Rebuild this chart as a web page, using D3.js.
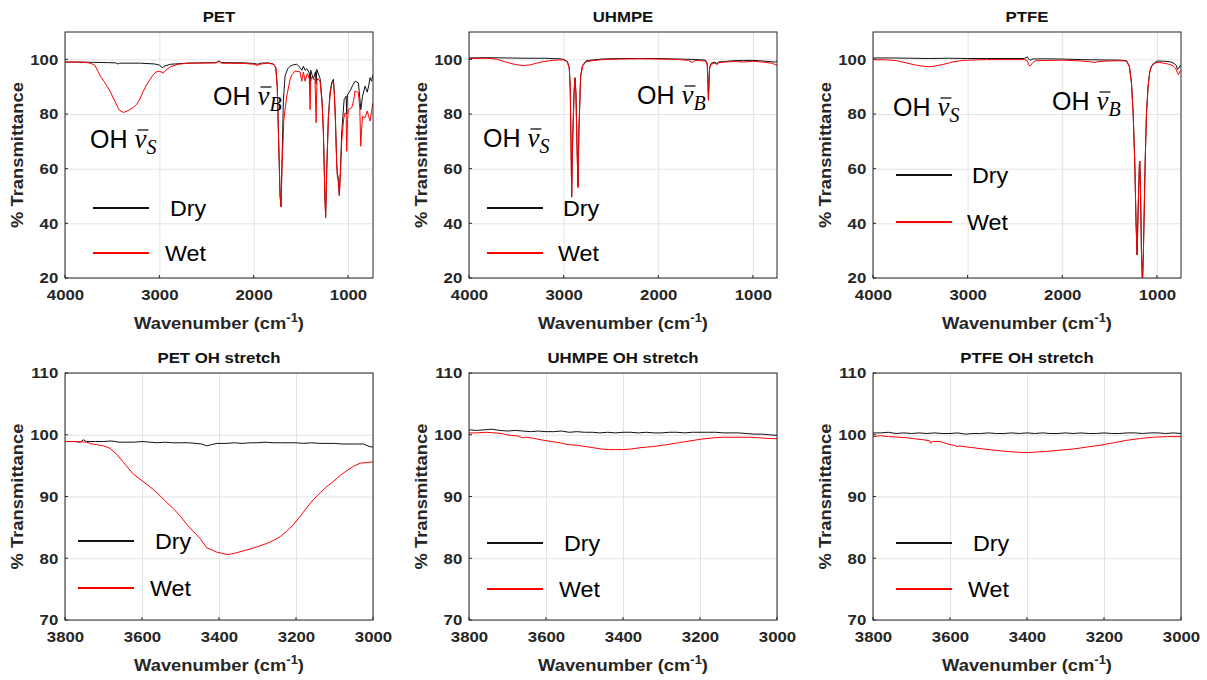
<!DOCTYPE html>
<html>
<head>
<meta charset="utf-8">
<script src="https://cdn.jsdelivr.net/npm/d3@7"></script>
<style>
  body { margin: 0; background: #fff; }
  text { font-family: "Liberation Sans", Arial, sans-serif; }
</style>
</head>
<body>
<svg id="chart" width="1207" height="680"></svg>
<script>
// spectra: [wavenumber cm-1, % transmittance]
const petDry = [
  [4000, 99.0], [3850, 99.0], [3700, 98.9], [3550, 98.8], [3460, 98.7], [3438, 98.3], [3420, 98.6],
  [3200, 98.6], [3050, 98.3], [3000, 97.9], [2968, 97.0], [2940, 97.6], [2880, 98.2], [2700, 98.6],
  [2400, 98.8], [2367, 99.4], [2340, 98.8], [2100, 98.7], [2000, 98.5], [1960, 98.2], [1920, 98.6],
  [1850, 98.7], [1790, 98.3], [1765, 97.0], [1750, 90.0], [1735, 70.0], [1720, 50.0], [1710, 46.2],
  [1700, 62.0], [1685, 85.0], [1667, 93.9], [1640, 96.5], [1614, 97.5], [1580, 98.0], [1543, 98.2],
  [1508, 97.0], [1490, 96.0], [1473, 97.5], [1455, 96.0], [1437, 96.6], [1410, 95.0], [1402, 90.0],
  [1395, 96.0], [1367, 92.7], [1345, 95.5], [1338, 91.0], [1331, 96.3], [1296, 93.0], [1275, 85.0],
  [1261, 74.0], [1245, 50.0], [1237, 42.5], [1225, 60.0], [1208, 79.0], [1190, 88.0], [1173, 91.4],
  [1155, 92.7], [1145, 88.0], [1134, 79.0], [1120, 62.0], [1113, 58.4], [1105, 57.0], [1092, 50.5],
  [1080, 60.0], [1067, 73.0], [1041, 85.3], [1020, 86.5], [1013, 80.0], [1006, 87.0], [978, 88.4],
  [950, 90.5], [925, 92.0], [890, 91.4], [875, 86.0], [865, 81.6], [855, 84.0], [846, 86.5],
  [819, 90.2], [796, 88.0], [780, 90.5], [766, 93.3], [750, 92.0], [735, 94.5]
]
const petWet = [
  [4000, 99.0], [3850, 99.0], [3760, 98.8], [3718, 98.4], [3683, 97.8], [3648, 95.5], [3622, 93.6],
  [3588, 92.0], [3553, 90.1], [3518, 88.0], [3484, 85.5], [3449, 83.2], [3432, 81.7], [3406, 81.0],
  [3380, 80.6], [3354, 80.9], [3319, 81.5], [3276, 82.4], [3241, 83.5], [3206, 85.5], [3172, 88.2],
  [3137, 90.6], [3102, 92.5], [3068, 94.2], [3033, 95.4], [3000, 95.6], [2975, 95.3], [2960, 95.0],
  [2930, 96.0], [2880, 97.3], [2800, 98.2], [2700, 98.6], [2400, 98.7], [2367, 99.3], [2340, 98.6],
  [2100, 98.5], [2000, 98.2], [1960, 97.8], [1920, 98.3], [1850, 98.6], [1790, 98.2], [1765, 97.0],
  [1750, 90.0], [1735, 70.0], [1720, 50.0], [1710, 46.0], [1700, 60.0], [1680, 78.0], [1649, 86.5],
  [1614, 92.7], [1590, 94.5], [1561, 95.7], [1508, 95.4], [1490, 92.0], [1473, 95.4], [1455, 92.0],
  [1431, 94.8], [1410, 93.0], [1402, 81.6], [1395, 92.0], [1384, 93.6], [1350, 92.5], [1338, 76.8],
  [1330, 92.0], [1320, 93.0], [1296, 92.0], [1275, 84.0], [1261, 73.0], [1245, 50.0], [1237, 42.0],
  [1225, 60.0], [1208, 78.5], [1190, 87.0], [1173, 90.8], [1155, 91.8], [1145, 87.0], [1134, 78.0],
  [1120, 62.0], [1113, 57.0], [1105, 56.0], [1092, 50.0], [1080, 58.0], [1067, 70.0], [1045, 78.5],
  [1031, 80.4], [1020, 80.0], [1013, 66.4], [1005, 78.0], [995, 81.7], [960, 82.3], [940, 85.0],
  [925, 88.4], [890, 87.8], [875, 82.0], [865, 68.2], [855, 75.0], [846, 79.2], [819, 78.6],
  [796, 81.1], [780, 79.0], [766, 77.4], [750, 81.0], [735, 84.1]
]
const uhmpeDry = [
  [4000, 100.5], [3800, 100.6], [3600, 100.5], [3400, 100.4], [3200, 100.4], [3050, 100.2],
  [3000, 100.0], [2960, 99.2], [2940, 97.0], [2930, 90.0], [2920, 65.0], [2915, 49.8], [2905, 70.0],
  [2890, 88.0], [2880, 93.3], [2870, 88.0], [2858, 68.0], [2848, 53.5], [2838, 75.0], [2820, 94.0],
  [2800, 97.8], [2760, 99.5], [2600, 100.1], [2400, 100.3], [2200, 100.3], [2000, 100.3], [1800, 100.1],
  [1650, 100.0], [1500, 99.7], [1482, 98.5], [1475, 92.0], [1470, 86.0], [1465, 90.0], [1458, 97.0],
  [1440, 98.6], [1400, 99.0], [1380, 98.3], [1365, 99.0], [1300, 99.2], [1200, 99.5], [1100, 99.6],
  [1000, 99.6], [900, 99.4], [800, 99.1], [760, 99.0], [735, 99.5]
]
const uhmpeWet = [
  [4000, 100.3], [3800, 100.4], [3700, 100.0], [3650, 99.4], [3600, 98.9], [3520, 98.2], [3430, 97.7],
  [3350, 98.0], [3250, 98.9], [3150, 99.5], [3050, 99.8], [3000, 99.8], [2960, 99.0], [2940, 96.5],
  [2930, 89.0], [2920, 64.0], [2915, 49.5], [2905, 69.0], [2890, 87.5], [2880, 93.0], [2870, 87.5],
  [2858, 67.0], [2848, 53.0], [2838, 74.0], [2820, 93.5], [2800, 97.5], [2760, 99.2], [2600, 99.9],
  [2400, 100.1], [2200, 100.2], [2000, 100.1], [1800, 100.0], [1680, 99.6], [1640, 98.8], [1610, 99.6],
  [1500, 99.4], [1482, 98.0], [1475, 91.0], [1470, 85.0], [1465, 89.0], [1458, 96.5], [1440, 98.2],
  [1400, 98.7], [1380, 98.0], [1365, 98.8], [1300, 99.0], [1200, 99.2], [1100, 99.0], [1000, 99.3],
  [900, 99.0], [800, 98.6], [760, 98.0], [735, 97.9]
]
const ptfeDry = [
  [4000, 100.5], [3800, 100.5], [3600, 100.4], [3400, 100.3], [3200, 100.4], [3000, 100.3],
  [2800, 100.3], [2400, 100.3], [2368, 100.9], [2355, 100.2], [2340, 99.6], [2320, 100.1],
  [2200, 100.2], [2000, 100.1], [1800, 99.9], [1600, 99.8], [1400, 99.7], [1321, 99.5], [1290, 97.5],
  [1268, 91.4], [1250, 80.0], [1233, 62.0], [1220, 40.0], [1209, 28.4], [1198, 45.0], [1185, 61.5],
  [1180, 62.7], [1172, 50.0], [1162, 28.0], [1152, 18.0], [1142, 30.0], [1124, 62.0], [1110, 80.0],
  [1093, 90.2], [1075, 95.5], [1057, 97.6], [1020, 98.9], [987, 99.4], [930, 99.3], [882, 99.2],
  [840, 98.9], [811, 98.3], [795, 97.8], [783, 96.3], [770, 96.6], [758, 97.6], [735, 98.0]
]
const ptfeWet = [
  [4000, 99.9], [3850, 99.8], [3750, 99.5], [3650, 98.7], [3550, 97.9], [3480, 97.5], [3416, 97.3],
  [3350, 97.5], [3250, 98.2], [3150, 99.1], [3050, 99.6], [3000, 99.7], [2800, 99.9], [2400, 99.9],
  [2370, 99.6], [2355, 98.0], [2340, 97.5], [2320, 98.4], [2307, 98.9], [2280, 99.5], [2000, 99.7],
  [1800, 99.4], [1700, 99.1], [1660, 98.8], [1620, 99.2], [1500, 99.4], [1400, 99.5], [1321, 99.4],
  [1290, 97.2], [1268, 91.0], [1250, 79.5], [1233, 61.5], [1220, 40.0], [1209, 28.4], [1198, 45.0],
  [1185, 61.5], [1180, 62.7], [1172, 50.0], [1162, 28.0], [1152, 18.0], [1142, 30.0], [1124, 62.0],
  [1110, 80.0], [1093, 90.0], [1075, 95.3], [1057, 97.4], [1020, 98.6], [987, 98.9], [930, 98.6],
  [882, 98.3], [840, 97.8], [811, 97.0], [795, 96.2], [783, 95.1], [770, 94.4], [758, 95.6], [735, 96.0]
]
const petOhDry = [
  [3800, 98.9], [3775, 98.9], [3760, 98.8], [3752, 99.2], [3745, 98.9], [3720, 98.9], [3700, 98.9],
  [3680, 99.0], [3660, 98.8], [3640, 98.8], [3620, 98.8], [3600, 98.9], [3580, 98.8], [3560, 98.7],
  [3540, 98.8], [3520, 98.7], [3500, 98.7], [3480, 98.7], [3460, 98.6], [3445, 98.5], [3432, 98.2],
  [3420, 98.4], [3405, 98.6], [3380, 98.6], [3360, 98.7], [3340, 98.6], [3320, 98.7], [3300, 98.7],
  [3280, 98.8], [3260, 98.7], [3240, 98.7], [3220, 98.7], [3200, 98.7], [3180, 98.6], [3160, 98.7],
  [3140, 98.6], [3120, 98.6], [3100, 98.6], [3080, 98.5], [3060, 98.5], [3040, 98.5], [3025, 98.5],
  [3010, 98.1], [3000, 98.0]
]
const petOhWet = [
  [3800, 98.9], [3770, 98.9], [3744, 98.8], [3730, 98.5], [3718, 98.4], [3700, 98.2], [3683, 97.8],
  [3665, 96.8], [3648, 95.5], [3622, 93.6], [3605, 92.8], [3588, 92.0], [3570, 91.1], [3553, 90.1],
  [3535, 89.0], [3518, 88.0], [3500, 86.8], [3484, 85.5], [3466, 84.3], [3449, 83.2], [3432, 81.7],
  [3420, 81.4], [3406, 81.0], [3393, 80.8], [3380, 80.6], [3367, 80.7], [3354, 80.9], [3336, 81.2],
  [3319, 81.5], [3298, 81.9], [3276, 82.4], [3258, 82.9], [3241, 83.5], [3224, 84.4], [3206, 85.5],
  [3189, 86.8], [3172, 88.2], [3155, 89.5], [3137, 90.6], [3120, 91.6], [3102, 92.5], [3085, 93.4],
  [3068, 94.2], [3050, 94.9], [3033, 95.4], [3015, 95.5], [3000, 95.6]
]
const uhmpeOhDry = [
  [3800, 100.8], [3780, 100.7], [3760, 100.8], [3740, 100.9], [3720, 100.7], [3700, 100.6],
  [3680, 100.7], [3660, 100.6], [3640, 100.5], [3620, 100.6], [3600, 100.5], [3580, 100.5],
  [3560, 100.6], [3540, 100.4], [3520, 100.5], [3500, 100.4], [3480, 100.4], [3460, 100.3],
  [3440, 100.4], [3420, 100.3], [3400, 100.4], [3380, 100.4], [3360, 100.3], [3340, 100.4],
  [3320, 100.3], [3300, 100.3], [3280, 100.4], [3260, 100.4], [3240, 100.3], [3220, 100.4],
  [3200, 100.4], [3180, 100.4], [3160, 100.4], [3140, 100.3], [3120, 100.3], [3100, 100.3],
  [3080, 100.2], [3060, 100.1], [3040, 100.1], [3020, 100.0], [3000, 99.9]
]
const uhmpeOhWet = [
  [3800, 100.3], [3780, 100.3], [3755, 100.4], [3735, 100.3], [3715, 100.2], [3694, 99.9],
  [3672, 99.8], [3660, 99.5], [3651, 99.6], [3630, 99.4], [3607, 99.1], [3585, 98.9], [3564, 98.7],
  [3542, 98.4], [3521, 98.3], [3499, 98.1], [3477, 97.9], [3458, 97.7], [3438, 97.6], [3420, 97.6],
  [3399, 97.6], [3378, 97.7], [3356, 97.9], [3320, 98.1], [3286, 98.4], [3256, 98.7], [3226, 99.0],
  [3195, 99.3], [3165, 99.5], [3140, 99.6], [3113, 99.6], [3090, 99.6], [3070, 99.6], [3045, 99.5],
  [3020, 99.4], [3000, 99.35]
]
const ptfeOhDry = [
  [3800, 100.3], [3780, 100.3], [3760, 100.4], [3740, 100.2], [3720, 100.3], [3700, 100.2],
  [3680, 100.3], [3660, 100.2], [3640, 100.3], [3620, 100.2], [3600, 100.2], [3580, 100.3],
  [3560, 100.1], [3540, 100.2], [3520, 100.2], [3500, 100.3], [3480, 100.2], [3460, 100.2],
  [3440, 100.3], [3420, 100.2], [3400, 100.3], [3380, 100.2], [3360, 100.3], [3340, 100.2],
  [3320, 100.2], [3300, 100.3], [3280, 100.2], [3260, 100.3], [3240, 100.2], [3220, 100.2],
  [3200, 100.3], [3180, 100.2], [3160, 100.2], [3140, 100.3], [3120, 100.3], [3100, 100.2],
  [3080, 100.3], [3060, 100.3], [3040, 100.2], [3020, 100.3], [3000, 100.2]
]
const ptfeOhWet = [
  [3800, 99.7], [3780, 99.85], [3760, 99.7], [3731, 99.6], [3710, 99.5], [3687, 99.3], [3670, 99.2],
  [3652, 99.0], [3650, 98.6], [3645, 98.9], [3626, 98.9], [3610, 98.6], [3600, 98.4], [3590, 98.3],
  [3582, 98.1], [3575, 98.2], [3566, 98.1], [3540, 97.9], [3514, 97.7], [3485, 97.5], [3453, 97.3],
  [3430, 97.2], [3401, 97.1], [3375, 97.2], [3349, 97.3], [3315, 97.5], [3279, 97.7], [3245, 98.0],
  [3210, 98.3], [3175, 98.7], [3141, 99.1], [3105, 99.4], [3072, 99.6], [3035, 99.7], [3000, 99.7]
]

const fullTicks = [4000, 3000, 2000, 1000]
const fullYTicks = [20, 40, 60, 80, 100]
const ohTicks = [3800, 3600, 3400, 3200, 3000]
const ohYTicks = [70, 80, 90, 100, 110]

const svg = d3.select('#chart')
svg.append('rect').attr('width', 1207).attr('height', 680).attr('fill', '#fff')

const plotW = 308
const topRow = { top: 32, bottom: 278 }
const botRow = { top: 373, bottom: 620 }
const lefts = [65, 469, 873]
const serif = '"Liberation Serif", "DejaVu Serif", serif'

let clipId = 0

// the figure's lettering is a bit wider than Arial, so stretch it sideways
function wideText (g, x, y, k) {
  return g.append('g').attr('transform', 'translate(' + x + ',' + y + ') scale(' + k + ',1)')
    .append('text')
}

function drawPanel (p) {
  const left = p.left
  const top = p.row.top
  const h = p.row.bottom - p.row.top
  const g = svg.append('g').attr('transform', 'translate(' + left + ',' + top + ')')

  const x = d3.scaleLinear().domain(p.xDomain).range([0, plotW])
  const y = d3.scaleLinear().domain(p.yDomain).range([h, 0])

  // grid + tick labels
  const xAxis = g.append('g').attr('transform', 'translate(0,' + h + ')')
    .call(d3.axisBottom(x).tickValues(p.xTicks).tickSizeInner(-h).tickSizeOuter(0).tickPadding(8).tickFormat(d3.format('d')))
  const yAxis = g.append('g')
    .call(d3.axisLeft(y).tickValues(p.yTicks).tickSizeInner(-plotW).tickSizeOuter(0).tickPadding(6).tickFormat(d3.format('d')))
  ;[xAxis, yAxis].forEach(a => {
    a.select('.domain').remove()
    a.selectAll('line').attr('stroke', '#e3e3e3').attr('stroke-width', 1)
    a.selectAll('text').attr('fill', '#262626').style('font-size', '15px').style('font-weight', 'bold')
      .style('font-family', '"Liberation Sans", Arial, sans-serif')
      .attr('transform', 'scale(1.12,1)')
  })
  xAxis.selectAll('text').attr('dy', '0.95em')

  // small inward ticks like MATLAB
  g.selectAll('.xt').data(p.xTicks).enter().append('line')
    .attr('x1', d => x(d)).attr('x2', d => x(d)).attr('y1', h).attr('y2', h - 3)
    .attr('stroke', '#262626')
  g.selectAll('.yt').data(p.yTicks).enter().append('line')
    .attr('x1', 0).attr('x2', 3).attr('y1', d => y(d)).attr('y2', d => y(d))
    .attr('stroke', '#262626')

  const id = 'clip' + (clipId++)
  g.append('clipPath').attr('id', id).append('rect').attr('width', plotW).attr('height', h)

  const line = d3.line().x(d => x(d[0])).y(d => y(d[1]))
  const lines = g.append('g').attr('clip-path', 'url(#' + id + ')')
  lines.append('path').datum(p.dry).attr('d', line).attr('fill', 'none').attr('stroke', '#111').attr('stroke-width', 1)
  lines.append('path').datum(p.wet).attr('d', line).attr('fill', 'none').attr('stroke', '#ff0000').attr('stroke-width', 1)

  // frame
  g.append('rect').attr('width', plotW).attr('height', h).attr('fill', 'none')
    .attr('stroke', '#262626').attr('stroke-width', 1)

  // title
  wideText(g, plotW / 2, -10, 1.12).attr('text-anchor', 'middle')
    .style('font-size', '15px').style('font-weight', 'bold').attr('fill', '#111').text(p.title)

  // axis labels
  const xl = wideText(g, plotW / 2, h + 51, 1.08).attr('text-anchor', 'middle')
    .style('font-size', '17px').style('font-weight', 'bold').attr('fill', '#262626')
  xl.append('tspan').text('Wavenumber (cm')
  xl.append('tspan').attr('dy', -7).style('font-size', '12px').text('-1')
  xl.append('tspan').attr('dy', 7).text(')')

  g.append('g').attr('transform', 'translate(' + (-42) + ',' + (h / 2) + ') rotate(-90) scale(1.08,1)')
    .append('text').attr('text-anchor', 'middle').style('font-size', '17px').style('font-weight', 'bold')
    .attr('fill', '#262626').text('% Transmittance')

  // legend
  const lg = p.legend
  ;[['Dry', '#111', lg.y1, lg.tx], ['Wet', '#ff0000', lg.y2, lg.tx - 5]].forEach(([name, col, ly, tx]) => {
    g.append('line').attr('x1', lg.x1).attr('x2', lg.x2).attr('y1', ly).attr('y2', ly)
      .attr('stroke', col).attr('stroke-width', 2)
    wideText(g, tx, ly + 8, 1.06).style('font-size', '22px').attr('fill', '#000').text(name)
  })

  // OH band annotations
  ;(p.notes || []).forEach(n => {
    const t = g.append('text').attr('x', n.x).attr('y', n.y).style('font-size', '25px').attr('fill', '#000')
    t.append('tspan').text('OH ')
    t.append('tspan').style('font-family', serif).style('font-style', 'italic')
      .style('font-size', '27px').text('v')
    t.append('tspan').attr('dy', 6).style('font-family', serif)
      .style('font-style', 'italic').style('font-size', '20px').text(n.sub)
    // bar over the v
    const ext = t.node().getExtentOfChar(3)
    g.append('line').attr('x1', ext.x + 3).attr('x2', ext.x + ext.width + 2)
      .attr('y1', n.y - 18).attr('y2', n.y - 18).attr('stroke', '#000').attr('stroke-width', 1.2)
  })
}

const panels = [
  { title: 'PET', left: lefts[0], row: topRow, xDomain: [4000, 735], yDomain: [20, 110], xTicks: fullTicks, yTicks: fullYTicks,
    dry: petDry, wet: petWet, legend: { x1: 28, x2: 84, y1: 176, y2: 221, tx: 105 },
    notes: [{ x: 25, y: 116, sub: 'S' }, { x: 148, y: 73, sub: 'B' }] },
  { title: 'UHMPE', left: lefts[1], row: topRow, xDomain: [4000, 745], yDomain: [20, 110], xTicks: fullTicks, yTicks: fullYTicks,
    dry: uhmpeDry, wet: uhmpeWet, legend: { x1: 18, x2: 74, y1: 176, y2: 221, tx: 94 },
    notes: [{ x: 14, y: 115, sub: 'S' }, { x: 168, y: 72, sub: 'B' }] },
  { title: 'PTFE', left: lefts[2], row: topRow, xDomain: [4000, 745], yDomain: [20, 110], xTicks: fullTicks, yTicks: fullYTicks,
    dry: ptfeDry, wet: ptfeWet, legend: { x1: 23, x2: 79, y1: 143, y2: 190, tx: 99 },
    notes: [{ x: 20, y: 84, sub: 'S' }, { x: 179, y: 78, sub: 'B' }] },
  { title: 'PET OH stretch', left: lefts[0], row: botRow, xDomain: [3800, 3000], yDomain: [70, 110], xTicks: ohTicks, yTicks: ohYTicks,
    dry: petOhDry, wet: petOhWet, legend: { x1: 13, x2: 69, y1: 168, y2: 215, tx: 90 } },
  { title: 'UHMPE OH stretch', left: lefts[1], row: botRow, xDomain: [3800, 3000], yDomain: [70, 110], xTicks: ohTicks, yTicks: ohYTicks,
    dry: uhmpeOhDry, wet: uhmpeOhWet, legend: { x1: 18, x2: 74, y1: 170, y2: 216, tx: 95 } },
  { title: 'PTFE OH stretch', left: lefts[2], row: botRow, xDomain: [3800, 3000], yDomain: [70, 110], xTicks: ohTicks, yTicks: ohYTicks,
    dry: ptfeOhDry, wet: ptfeOhWet, legend: { x1: 23, x2: 79, y1: 170, y2: 216, tx: 100 } }
]

panels.forEach(drawPanel)
</script>
</body>
</html>
